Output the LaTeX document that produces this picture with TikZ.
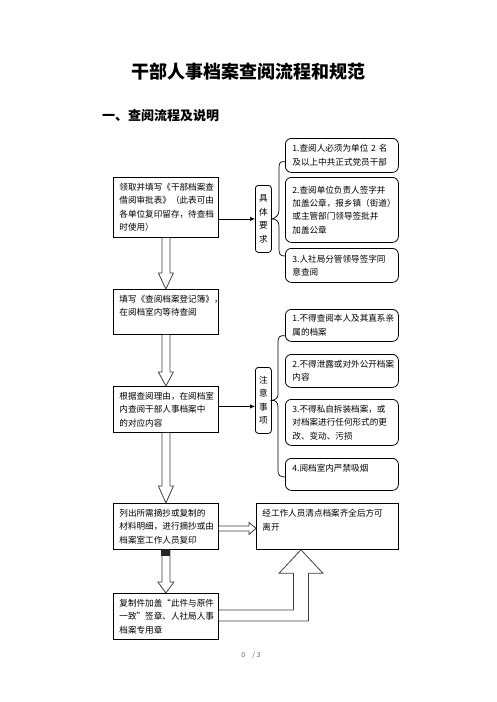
\documentclass[tikz,border=0pt]{standalone}
\usepackage{fontspec}
\setmainfont{Noto Sans CJK SC}
\usetikzlibrary{arrows.meta,calc}

\begin{document}
\begin{tikzpicture}[x=1pt,y=-1pt,
  every node/.style={inner sep=0pt},
  flowbox/.style={draw,line width=0.8pt,anchor=north west,align=left,text width=93pt,inner xsep=6pt,font=\fontsize{8.6}{13.4}\selectfont},
  notebox/.style={flowbox,rounded corners=6pt,text width=99pt,inner xsep=7pt},
  tagbox/.style={draw,line width=0.8pt,rounded corners=3pt,anchor=north west,align=center,minimum width=16pt,font=\fontsize{8.6}{13.4}\selectfont},
  hollow/.style={draw=black!75,line width=0.8pt,fill=white,line join=miter},
  pointer/.style={line width=0.7pt,-{Latex[length=5pt,width=4.5pt]}},
  brace/.style={line width=0.7pt}]
\useasboundingbox (0,0) rectangle (496,702);

% headings
\node[font=\fontsize{18}{20}\selectfont\bfseries] (title) at (248,72) {干部人事档案查阅流程和规范};
\node[anchor=west,font=\fontsize{13}{15}\selectfont\bfseries] (section) at (102,116) {一、查阅流程及说明};

% left column
\node[flowbox,minimum height=60pt] (apply) at (113,177) {领取并填写《干部档案查\\借阅审批表》（此表可由\\各单位复印留存，待查档\\时使用）};
\node[flowbox,minimum height=45pt] (register) at (113,289) {填写《查阅档案登记簿》，\\在阅档室内等待查阅\\\mbox{}};
\node[flowbox,minimum height=46pt] (consult) at (113,386) {根据查阅理由，在阅档室\\内查阅干部人事档案中\\的对应内容};
\node[flowbox,minimum height=46pt] (excerpt) at (113,503) {列出所需摘抄或复制的\\材料明细，进行摘抄或由\\档案室工作人员复印};
\node[flowbox,minimum height=46pt] (stamp) at (113,593) {复制件加盖“此件与原件\\一致”签章、人社局人事\\档案专用章};
\node[flowbox,text width=130pt,minimum height=46pt] (leave) at (256,503) {经工作人员清点档案齐全后方可\\离开\\\mbox{}};

% requirements
\node[tagbox,minimum height=67pt] (req) at (255,185) {具\\体\\要\\求};
\node[notebox,minimum height=34pt] (req1) at (285,138) {1.查阅人必须为单位 2 名\\及以上中共正式党员干部};
\node[notebox,minimum height=65pt] (req2) at (285,177) {2.查阅单位负责人签字并\\加盖公章，报乡镇（街道）\\或主管部门领导签批并\\加盖公章};
\node[notebox,minimum height=34pt] (req3) at (285,248) {3.人社局分管领导签字同\\意查阅};

% notices
\node[tagbox,minimum height=66pt] (note) at (255,367) {注\\意\\事\\项};
\node[notebox,minimum height=32pt] (note1) at (285,309) {1.不得查阅本人及其直系亲\\属的档案};
\node[notebox,minimum height=33pt] (note2) at (285,354) {2.不得泄露或对外公开档案\\内容};
\node[notebox,minimum height=46pt] (note3) at (285,399) {3.不得私自拆装档案，或\\对档案进行任何形式的更\\改、变动、污损};
\node[notebox,minimum height=32pt] (note4) at (285,458) {4.阅档室内严禁吸烟\\\mbox{}};

\node[font=\fontsize{7}{8}\selectfont,text=black!60] (page) at (251,655) {0\hspace{7pt}/ 3};

% braces
\draw[brace] (req1.south west) ++(0,-11) .. controls (280,161) and (279,163) .. (279,168) -- (279,210)
  .. controls (279,215) and (276,218) .. (req.east) .. controls (276,219) and (279,221) .. (279,226)
  -- (279,249) .. controls (279,254) and (280,256) .. (285,256);
\draw[brace] (note1.south west) ++(0,-6) .. controls (280,335) and (278,337) .. (278,342) -- (278,395)
  .. controls (278,398) and (275,400) .. (note.east) .. controls (275,400) and (278,402) .. (278,407)
  -- (278,471) .. controls (278,475) and (280,477) .. (285,477);

% thin arrows
\coordinate (reqin) at (apply.east |- req.west);
\draw[pointer] (reqin) -- (req.west);
\coordinate (noteout) at ([yshift=3pt]consult.east);
\draw[pointer] (noteout) -- (noteout -| note.west);

% hollow arrows down the left column
\draw[hollow] ([xshift=-4pt]apply.south) -- ([xshift=-4pt,yshift=16pt]register.north) -- ([xshift=-7.5pt,yshift=16pt]register.north) -- (register.north) -- ([xshift=7.5pt,yshift=16pt]register.north) -- ([xshift=4pt,yshift=16pt]register.north) -- ([xshift=4pt]apply.south);
\draw[hollow] ([xshift=-4pt]register.south) -- ([xshift=-4pt,yshift=14pt]consult.north) -- ([xshift=-7.5pt,yshift=14pt]consult.north) -- (consult.north) -- ([xshift=7.5pt,yshift=14pt]consult.north) -- ([xshift=4pt,yshift=14pt]consult.north) -- ([xshift=4pt]register.south);
\draw[hollow] ([xshift=-4pt]consult.south) -- ([xshift=-4pt,yshift=17pt]excerpt.north) -- ([xshift=-7.5pt,yshift=17pt]excerpt.north) -- (excerpt.north) -- ([xshift=7.5pt,yshift=17pt]excerpt.north) -- ([xshift=4pt,yshift=17pt]excerpt.north) -- ([xshift=4pt]consult.south);
\draw[hollow] ([xshift=-4pt]excerpt.south) -- ([xshift=-4pt,yshift=11pt]stamp.north) -- ([xshift=-8pt,yshift=11pt]stamp.north) -- (stamp.north) -- ([xshift=8pt,yshift=11pt]stamp.north) -- ([xshift=4pt,yshift=11pt]stamp.north) -- ([xshift=4pt]excerpt.south);
\fill[black!85] ([xshift=-4.5pt]excerpt.south) rectangle ([xshift=4.5pt,yshift=-6pt]excerpt.south);

% hollow arrow to the right
\draw[hollow] ([yshift=0.5pt]excerpt.east) -- ([xshift=-7pt,yshift=0.5pt]leave.west) -- ([xshift=-7pt,yshift=4pt]leave.west) -- ([yshift=-2pt]leave.west) -- ([xshift=-7pt,yshift=-8pt]leave.west) -- ([xshift=-7pt,yshift=-4.5pt]leave.west) -- ([yshift=-4.5pt]excerpt.east);

% bent hollow arrow up
\coordinate (tip) at ([xshift=45pt]leave.south west);
\coordinate (bend) at (tip |- stamp.east);
\draw[hollow] ($(stamp.east)+(0,-6.5)$) -- ($(bend)+(-7.5,-6.5)$) -- ($(tip)+(-7.5,23.5)$) -- ($(tip)+(-22,23.5)$) -- (tip)
  -- ($(tip)+(22,23.5)$) -- ($(tip)+(7.5,23.5)$) -- ($(bend)+(7.5,4.5)$) -- ($(stamp.east)+(0,4.5)$);

\end{tikzpicture}
\end{document}
